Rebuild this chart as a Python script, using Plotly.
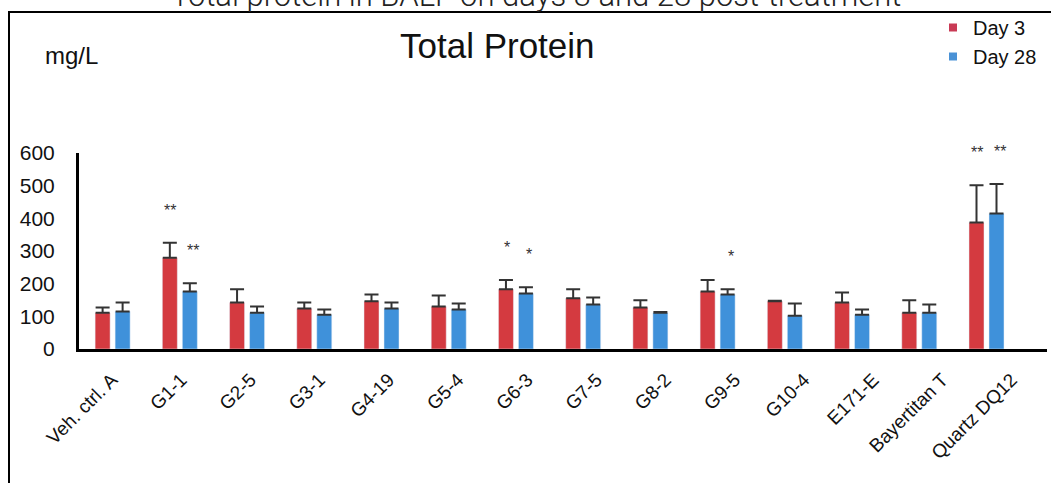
import plotly.graph_objects as go

categories = ["Veh. ctrl. A", "G1-1", "G2-5", "G3-1", "G4-19", "G5-4", "G6-3",
              "G7-5", "G8-2", "G9-5", "G10-4", "E171-E", "Bayertitan T", "Quartz DQ12"]
day3_values = [111, 279, 142, 124, 146, 130, 183, 155, 127, 176, 146, 142, 111, 387]
day3_errors = [16, 46, 41, 18, 21, 34, 28, 28, 22, 35, 2, 31, 38, 114]
day28_values = [115, 176, 111, 105, 124, 121, 170, 136, 111, 167, 102, 105, 111, 415]
day28_errors = [27, 25, 19, 16, 18, 18, 19, 22, 2, 16, 37, 16, 25, 90]
day3_stars = ["", "**", "", "", "", "", "*", "", "", "", "", "", "", "**"]
day28_stars = ["", "**", "", "", "", "", "*", "", "", "*", "", "", "", "**"]
y_ticks = [0, 100, 200, 300, 400, 500, 600]

RED = "#D43A40"
BLUE = "#3F91DA"
ERR = "#333333"
FONT = "Liberation Sans, Arial"

W, H = 1051, 483
L, R, T, B = 79, 4, 153, 134
PW, PH = W - L - R, H - T - B
LABEL_STEP = 69.2   # px between category labels
LABEL_START = 112   # px of first label anchor


def px(x):
    return (x - L) / PW


def py(y):
    return (H - B - y) / PH


fig = go.Figure()
fig.add_trace(go.Bar(
    name="Day 3", x=categories, y=day3_values, marker_color=RED, showlegend=False,
    error_y=dict(type="data", array=day3_errors, symmetric=False,
                 arrayminus=[0] * len(day3_errors), color=ERR, thickness=2, width=7),
))
fig.add_trace(go.Bar(
    name="Day 28", x=categories, y=day28_values, marker_color=BLUE, showlegend=False,
    error_y=dict(type="data", array=day28_errors, symmetric=False,
                 arrayminus=[0] * len(day28_errors), color=ERR, thickness=2, width=7),
))
for name, col in (("Day 3", "#C93A55"), ("Day 28", "#4A92D6")):
    fig.add_trace(go.Scatter(x=[None], y=[None], mode="markers", name=name,
                             marker=dict(symbol="square", size=8, color=col)))
fig.add_trace(go.Scatter(x=[0], y=[0], xaxis="x2", yaxis="y", mode="markers",
                         marker=dict(opacity=0), showlegend=False, hoverinfo="skip"))

annotations = []
n = len(categories)
for i in range(n):
    for stars, vals, errs, off in ((day3_stars, day3_values, day3_errors, -0.14),
                                   (day28_stars, day28_values, day28_errors, 0.2)):
        if stars[i]:
            annotations.append(dict(
                x=i + off, y=vals[i] + errs[i], xref="x", yref="y", text=stars[i],
                showarrow=False, yanchor="bottom", yshift=22,
                font=dict(family=FONT, size=16, color="#333"),
            ))

annotations += [
    dict(text="Total protein in BALF on days 3 and 28 post-treatment",
         x=px(536), y=py(16), xref="paper", yref="paper", showarrow=False,
         xanchor="center", yanchor="bottom",
         font=dict(family="Roboto, Liberation Sans", size=31, color="#222", weight=300)),
    dict(text="Total Protein", x=px(497), y=py(45), xref="paper", yref="paper",
         showarrow=False, xanchor="center", yanchor="middle",
         font=dict(family=FONT, size=35, color="#111")),
    dict(text="mg/L", x=px(71), y=py(55), xref="paper", yref="paper",
         showarrow=False, xanchor="center", yanchor="middle",
         font=dict(family=FONT, size=24, color="#111")),
]

fig.update_layout(
    width=W, height=H,
    margin=dict(l=L, r=R, t=T, b=B, pad=0),
    paper_bgcolor="white", plot_bgcolor="white",
    barmode="group", bargap=0.405, bargroupgap=0.25,
    annotations=annotations,
    showlegend=True,
    legend=dict(x=px(933), y=py(8), xanchor="left", yanchor="top",
                font=dict(family=FONT, size=20, color="#111"),
                bgcolor="rgba(0,0,0,0)", itemwidth=30, tracegroupgap=0),
    shapes=[dict(type="rect", xref="paper", yref="paper",
                 x0=px(9), x1=px(1060), y0=py(495), y1=py(12),
                 line=dict(color="black", width=2), fillcolor="rgba(0,0,0,0)", layer="below")],
    xaxis=dict(range=[-0.5, 13.9], showline=True, linecolor="black", linewidth=3,
               ticks="", showticklabels=False, showgrid=False, zeroline=False,
               automargin=False, fixedrange=True),
    xaxis2=dict(overlaying="x", anchor="y", side="bottom",
                range=[(L - LABEL_START) / LABEL_STEP, (L - LABEL_START + PW) / LABEL_STEP],
                tickvals=list(range(n)), ticktext=categories, tickangle=-45,
                ticks="", showline=False, showgrid=False, zeroline=False, automargin=False,
                ticklabelstandoff=15,
                tickfont=dict(family=FONT, size=19, color="#111")),
    yaxis=dict(range=[0, 600], tickvals=y_ticks, showline=True, linecolor="black",
               linewidth=3, ticks="", showgrid=False, zeroline=False,
               ticklabelstandoff=17, automargin=False,
               tickfont=dict(family=FONT, size=21, color="#111")),
)

fig.write_html("out.html", config={"displayModeBar": False},
               post_script="document.body.style.margin='0';")
